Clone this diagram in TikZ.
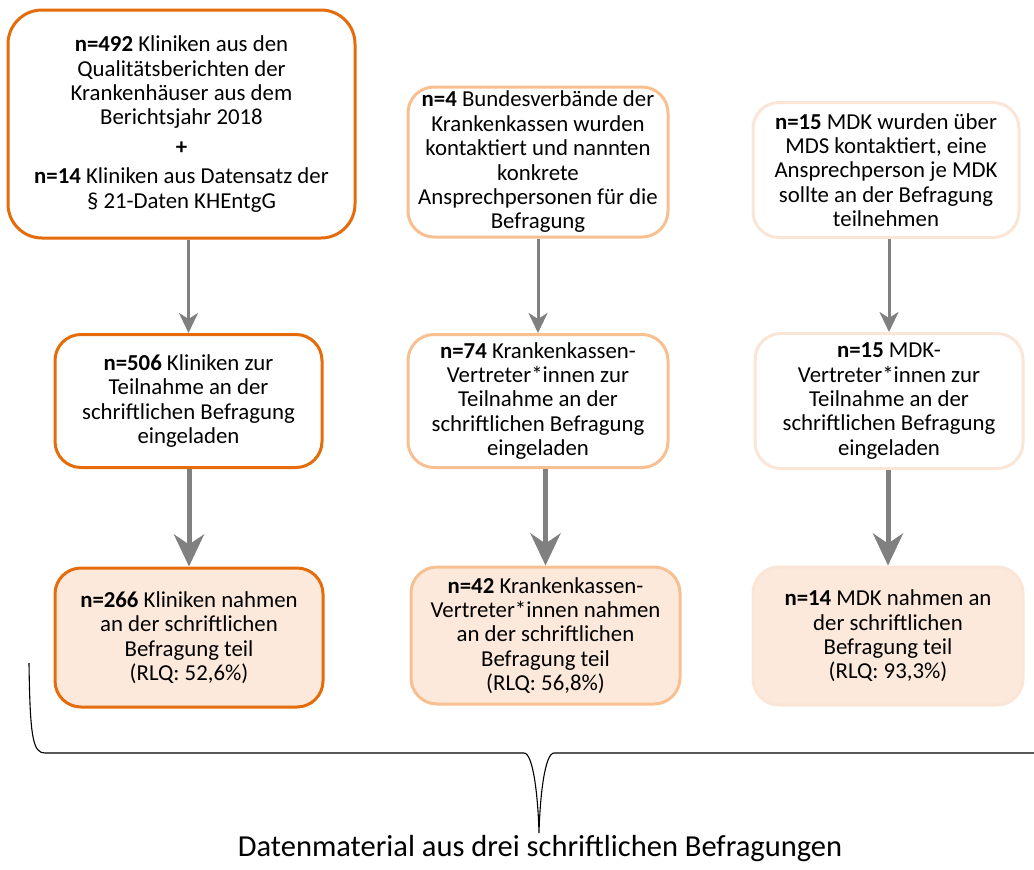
\documentclass[tikz,border=0pt]{standalone}
\usepackage{fontspec}
\setmainfont{Carlito}
\usetikzlibrary{arrows.meta}
\definecolor{orDark}{RGB}{228,108,10}
\definecolor{orMid}{RGB}{248,192,145}
\definecolor{orPale}{RGB}{251,229,214}
\definecolor{resFill}{RGB}{252,233,219}
\definecolor{arrGray}{RGB}{128,128,128}
\begin{document}
\begin{tikzpicture}[x=1pt,y=-1pt,
  box/.style={rectangle, rounded corners=26pt, line width=3pt, align=center,
    inner sep=0pt, font=\fontsize{22.8}{24.4}\selectfont, fill=white},
  darkbox/.style={box, draw=orDark},
  midbox/.style={box, draw=orMid},
  palebox/.style={box, draw=orPale},
  resbox/.style={fill=resFill},
  thinarrow/.style={draw=arrGray, line width=3pt,
    -{Stealth[length=20pt,width=19pt,inset=6pt]}},
  thickarrow/.style={draw=arrGray, line width=5pt,
    -{Stealth[length=32pt,width=30pt,inset=10pt]}},
  brace/.style={draw=black, line width=1.1pt}
]
\useasboundingbox (0,0) rectangle (1034,870);

% first row: contacted groups
\node[darkbox, rounded corners=34pt, minimum width=347pt, minimum height=228pt] (b1) at (181.5,124)
  {\textbf{n=492} Kliniken aus den\\Qualitätsberichten der\\Krankenhäuser aus dem\\Berichtsjahr 2018\\[5pt]\textbf{+}\\[5pt]\textbf{n=14} Kliniken aus Datensatz der\\§ 21-Daten KHEntgG};
\node[midbox, minimum width=260pt, minimum height=150pt] (b2) at (538,162)
  {\textbf{n=4} Bundesverbände der\\Krankenkassen wurden\\kontaktiert und nannten\\konkrete\\Ansprechpersonen für die\\Befragung};
\node[palebox, minimum width=266pt, minimum height=135pt] (b3) at (886,170)
  {\textbf{n=15} MDK wurden über\\MDS kontaktiert, eine\\Ansprechperson je MDK\\sollte an der Befragung\\teilnehmen};

% second row: invitations
\node[darkbox, minimum width=267pt, minimum height=133pt] (b4) at (188.5,401)
  {\textbf{n=506} Kliniken zur\\Teilnahme an der\\schriftlichen Befragung\\eingeladen};
\node[midbox, minimum width=260pt, minimum height=133pt] (b5) at (538,401)
  {\textbf{n=74} Krankenkassen-\\Vertreter*innen zur\\Teilnahme an der\\schriftlichen Befragung\\eingeladen};
\node[palebox, minimum width=268pt, minimum height=135pt] (b6) at (889,401)
  {\textbf{n=15} MDK-\\Vertreter*innen zur\\Teilnahme an der\\schriftlichen Befragung\\eingeladen};

% third row: participants
\node[darkbox, resbox, minimum width=268pt, minimum height=139pt] (b7) at (189,637.5)
  {\textbf{n=266} Kliniken nahmen\\an der schriftlichen\\Befragung teil\\(RLQ: 52,6\%)};
\node[midbox, resbox, minimum width=269pt, minimum height=137pt] (b8) at (545.5,635.5)
  {\textbf{n=42} Krankenkassen-\\Vertreter*innen nahmen\\an der schriftlichen\\Befragung teil\\(RLQ: 56,8\%)};
\node[palebox, resbox, minimum width=270pt, minimum height=138pt] (b9) at (888,636)
  {\textbf{n=14} MDK nahmen an\\der schriftlichen\\Befragung teil\\(RLQ: 93,3\%)};

% arrows
\draw[thinarrow] (b4.north |- b1.south) -- (b4.north);
\draw[thinarrow] (b5.north |- b2.south) -- (b5.north);
\draw[thinarrow] (b6.north |- b3.south) -- (b6.north);
\draw[thickarrow] (b7.north |- b4.south) -- (b7.north);
\draw[thickarrow] (b8.north |- b5.south) -- (b8.north);
\draw[thickarrow] (b9.north |- b6.south) -- (b9.north);

% summarising brace and caption
\coordinate (tip) at (539,833);
\draw[brace] (29,663) .. controls (30,738) and (33,753) .. (45,753)
  -- (524,753) .. controls (533,753) and (538,795) .. (tip)
  .. controls (540,795) and (545,753) .. (554,753) -- (1034,753);
\node[font=\fontsize{30.5}{34}\selectfont, anchor=north] (cap) at (540,832)
  {Datenmaterial aus drei schriftlichen Befragungen};
\end{tikzpicture}
\end{document}
